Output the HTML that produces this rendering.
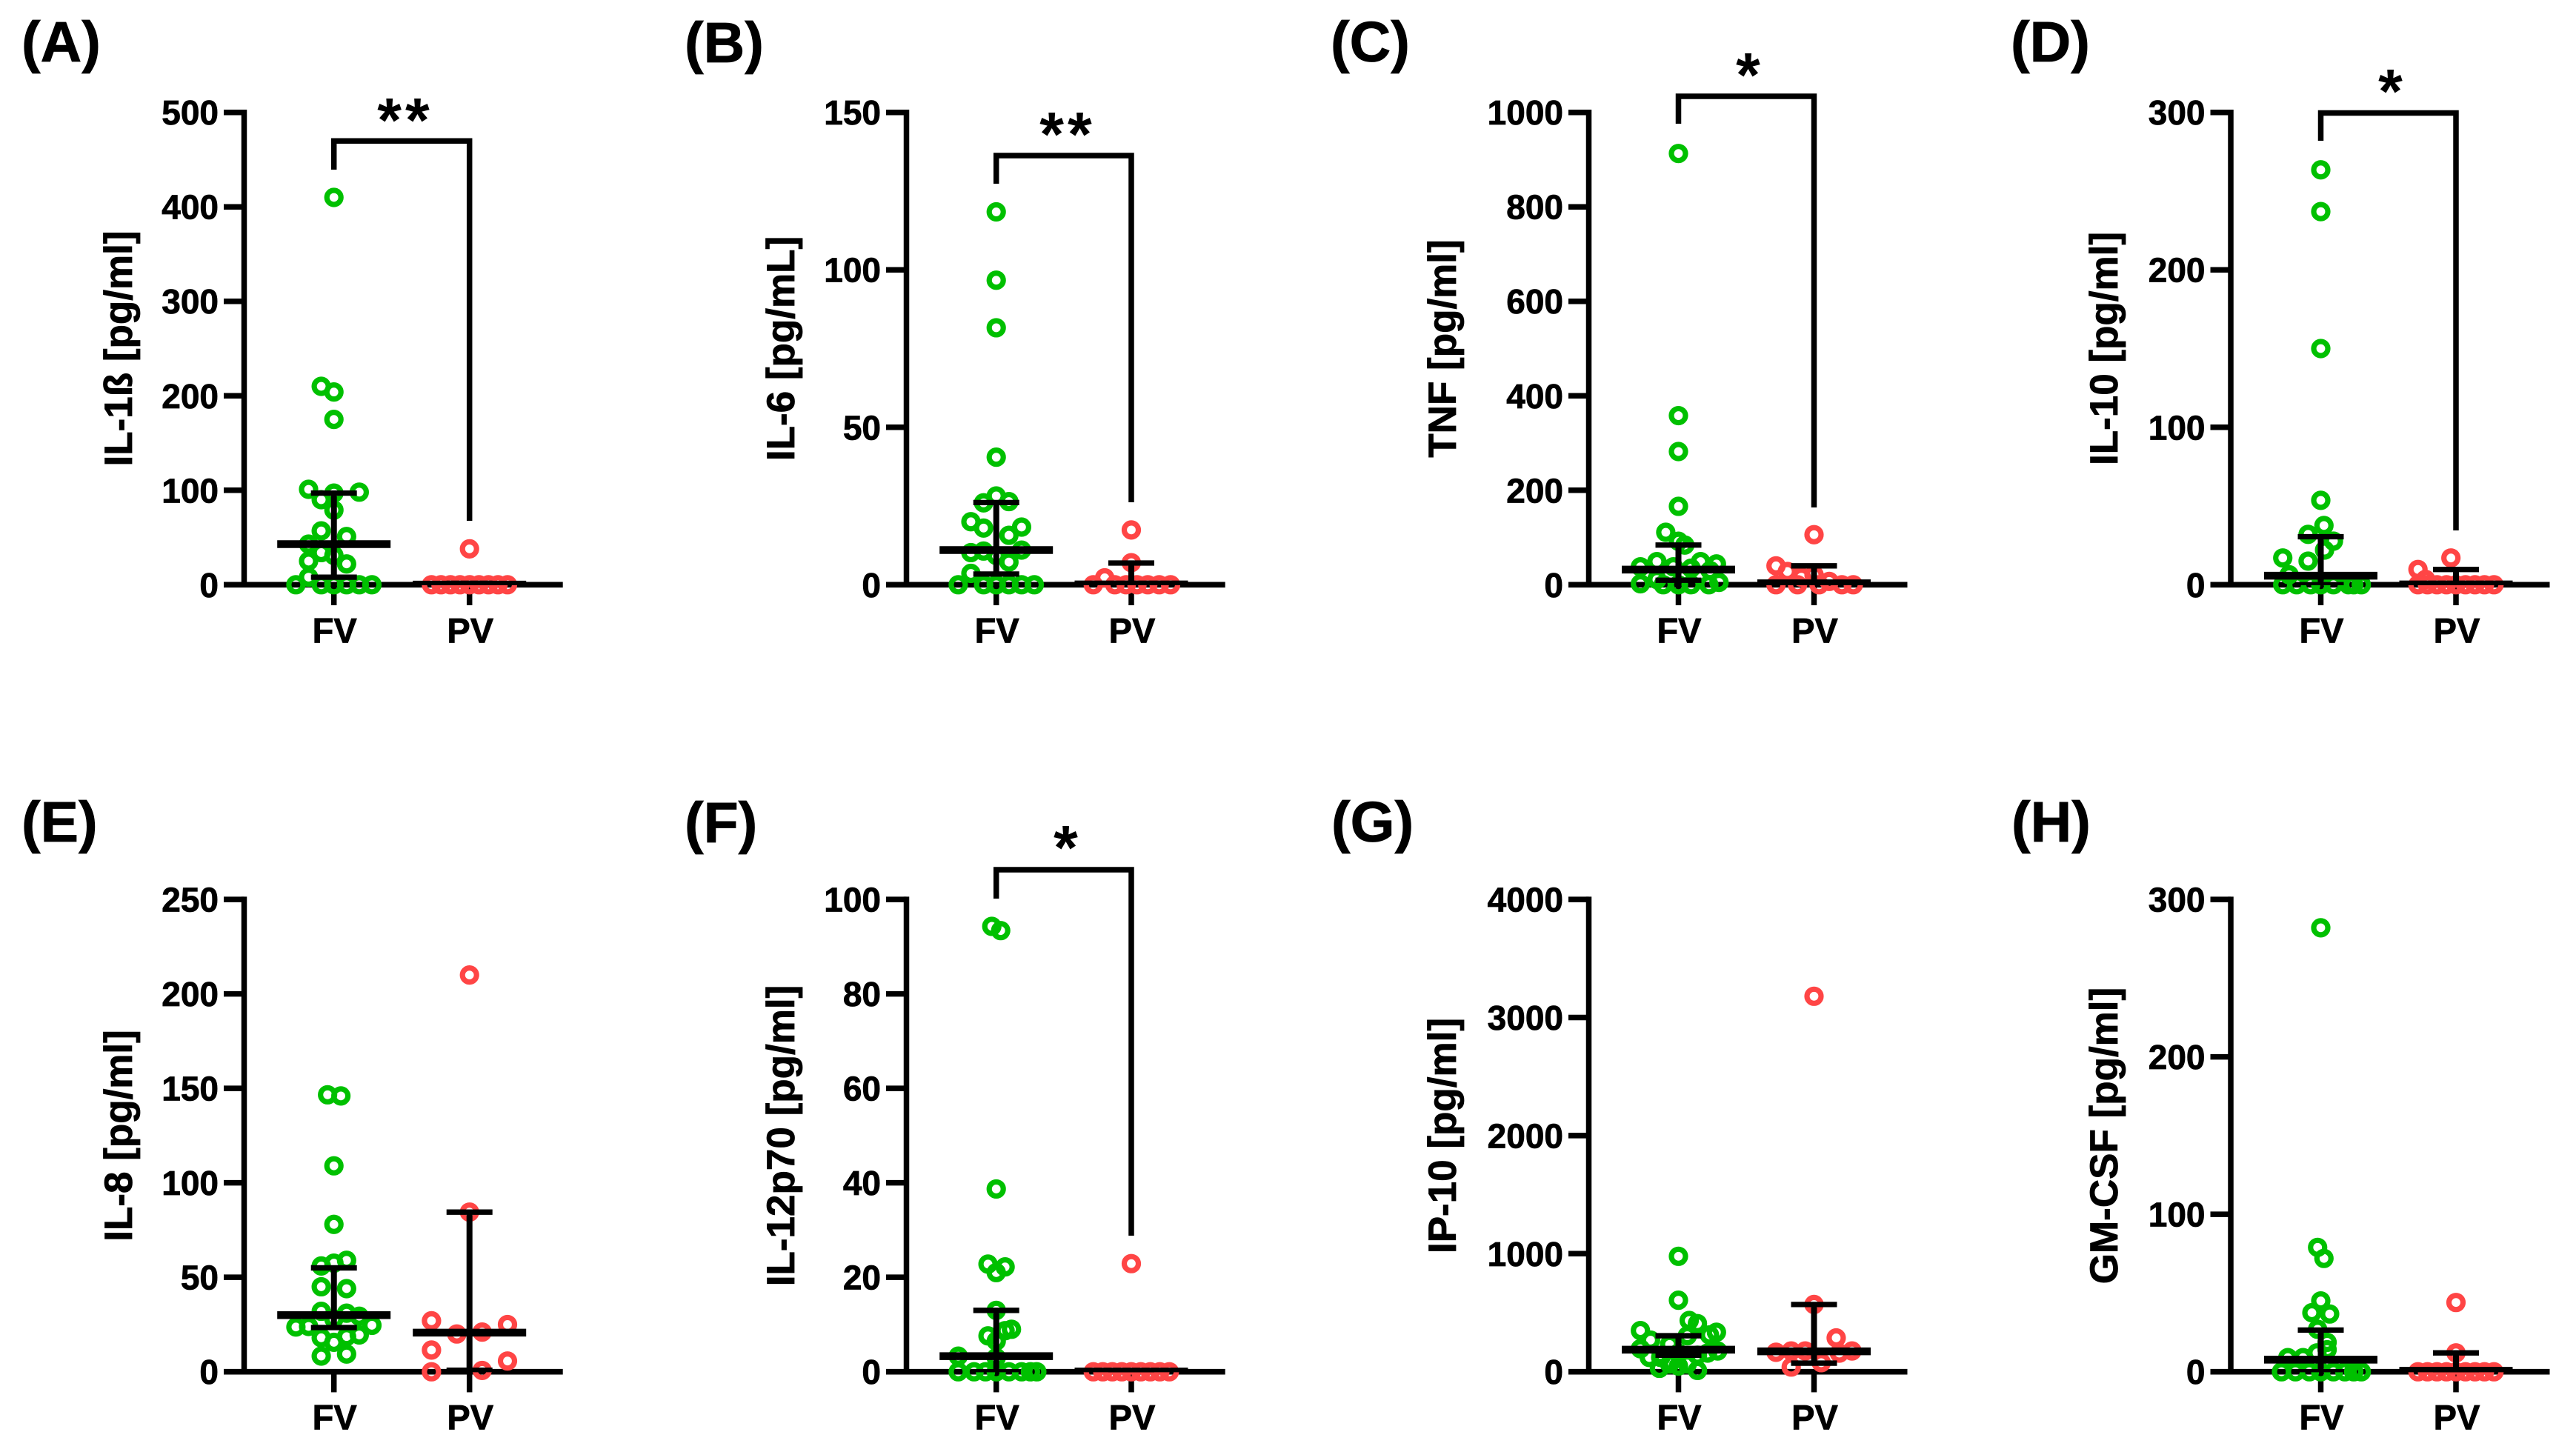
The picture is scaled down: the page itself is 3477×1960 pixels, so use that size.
<!DOCTYPE html>
<html lang="en">
<head>
<meta charset="utf-8">
<title>Cytokine levels FV vs PV</title>
<style>
html,body{margin:0;padding:0;background:#fff;}
svg{display:block;}
text{font-family:"Liberation Sans",Arial,sans-serif;font-weight:700;fill:#000;stroke:#000;stroke-width:0.8px;}
.letter{font-size:77px;}
.title{font-size:53px;text-anchor:middle;}
.star{font-size:84px;letter-spacing:5px;text-anchor:middle;stroke-width:0;}
</style>
</head>
<body>
<svg id="figure" xmlns="http://www.w3.org/2000/svg" width="3477" height="1960" viewBox="0 0 3477 1960">
  <defs>
    <clipPath id="clip-top"><rect x="0" y="0" width="3477" height="790"/></clipPath>
    <clipPath id="clip-bottom"><rect x="0" y="1000" width="3477" height="852.4"/></clipPath>
  </defs>
  <rect x="0" y="0" width="3477" height="1960" fill="#ffffff"/>

  <g id="panel-a">
    <text class="letter" x="29" y="83">(A)</text>
    <text class="title" transform="translate(178,470.5) rotate(-90)">IL-1ß [pg/ml]</text>
    <text class="star" x="547" y="191">**</text>
  </g>
  <g id="panel-b">
    <text class="letter" x="924" y="84">(B)</text>
    <text class="title" transform="translate(1072,470.5) rotate(-90)">IL-6 [pg/mL]</text>
    <text class="star" x="1441" y="210">**</text>
  </g>
  <g id="panel-c">
    <text class="letter" x="1796" y="83">(C)</text>
    <text class="title" transform="translate(1965,470.5) rotate(-90)">TNF [pg/ml]</text>
    <text class="star" x="2362" y="130">*</text>
  </g>
  <g id="panel-d">
    <text class="letter" x="2714" y="83">(D)</text>
    <text class="title" transform="translate(2858,470.5) rotate(-90)">IL-10 [pg/ml]</text>
    <text class="star" x="3229" y="152">*</text>
  </g>
  <g id="panel-e">
    <text class="letter" x="29" y="1136">(E)</text>
    <text class="title" transform="translate(178,1533) rotate(-90)">IL-8 [pg/ml]</text>
  </g>
  <g id="panel-f">
    <text class="letter" x="924" y="1137">(F)</text>
    <text class="title" transform="translate(1072,1533) rotate(-90)">IL-12p70 [pg/ml]</text>
    <text class="star" x="1441" y="1173">*</text>
  </g>
  <g id="panel-g">
    <text class="letter" x="1797" y="1136">(G)</text>
    <text class="title" transform="translate(1965,1533) rotate(-90)">IP-10 [pg/ml]</text>
  </g>
  <g id="panel-h">
    <text class="letter" x="2715" y="1136">(H)</text>
    <text class="title" transform="translate(2858,1533) rotate(-90)">GM-CSF [pg/ml]</text>
  </g>
</svg>

<script>
// ---- shared categories ----
const categories = ['FV', 'PV'];

// ---- panel A: IL-1ß ----
const aTicks = [0, 100, 200, 300, 400, 500];
const aFvValues = [410, 210, 204, 175, 101, 90, 97, 98, 79, 57, 51, 43, 34, 31, 25, 22, 8, 0, 0, 0, 0, 0, 0];
const aFvLanes = [0, -1, 0, 0, -2, -1, 0, 2, 0, -1, 1, -2, -1, 0, -2, 1, -2, -3, -1, 0, 1, 2, 3];
const aPvValues = [38, 0, 0, 0, 0, 0, 0, 0, 0, 0];
const aPvLanes = [0, -3, -2.25, -1.5, -0.75, 0, 0.75, 1.5, 2.25, 3];
const aMedian = [43, 0.1];
const aUpper = [97, 1.5];
const aLower = [8, 0];

// ---- panel B: IL-6 ----
const bTicks = [0, 50, 100, 150];
const bFvValues = [118.4, 96.7, 81.6, 40.5, 28.2, 26, 26.4, 20, 18, 18.3, 15.7, 10.2, 10.7, 11, 9.3, 7.2, 3.6, 0, 0, 0, 0, 0, 0];
const bFvLanes = [0, 0, 0, 0, 0, -1, 1, -2, -1, 2, 1, -2, -1, 2, 0, 1, -2, -3, -1, 0, 1, 2, 3];
const bPvValues = [17.4, 7, 2.2, 0, 0, 0, 0, 0, 0, 0];
const bPvLanes = [0, 0, -2.1, -3, -1.3, -0.4, 0.45, 1.3, 2.2, 3.1];
const bMedian = [11, 0.1];
const bUpper = [26.1, 6.9];
const bLower = [3.4, 0];

// ---- panel C: TNF ----
const cTicks = [0, 200, 400, 600, 800, 1000];
const cFvValues = [913, 358, 282, 166, 111, 92, 84, 38, 49, 38, 35, 49, 44, 30, 11, 2, 5, 0, 0, 0, 0];
const cFvLanes = [0, 0, 0, 0, -1, 0, 0.5, -3, -1.7, -0.4, 1, 1.75, 3, 2.5, -1.7, -3, 3.2, -1.2, 0, 1, 2.4];
const cPvValues = [106, 40, 28, 16, 21, 7, 0, 0, 0, 0, 0];
const cPvLanes = [0, -3, -2.1, -1, 0, 1.2, -3, -1.3, 0.4, 2.2, 3.1];
const cMedian = [32, 3];
const cUpper = [84, 40];
const cLower = [9.5, 0];

// ---- panel D: IL-10 ----
const dTicks = [0, 100, 200, 300];
const dFvValues = [263.5, 237, 150, 53.6, 37.6, 32, 27.7, 22, 15, 17, 6.3, 0, 0, 0, 0, 0, 0, 0, 0];
const dFvLanes = [0, 0, 0, 0, 0.25, -1, 1, 0.3, -1, -3, -2.5, -3, -1.9, -0.8, 0, 1, 2.2, 2.6, 3.2];
const dPvValues = [17, 9.7, 3.4, 0, 0, 0, 0, 0, 0, 0, 0, 0];
const dPvLanes = [-0.4, -3, -2.4, -3, -2.25, -1.5, -0.75, 0, 0.75, 1.5, 2.25, 3];
const dMedian = [5.7, 0.2];
const dUpper = [30.5, 9.7];
const dLower = [0, 0];

// ---- panel E: IL-8 ----
const eTicks = [0, 50, 100, 150, 200, 250];
const eFvValues = [146.6, 146, 109, 78, 59, 57.5, 56, 45, 44, 32, 31, 29.4, 28, 23.7, 24, 24.6, 19.5, 18, 18.6, 15.6, 8.3, 9.4];
const eFvLanes = [-0.5, 0.55, 0, 0, 1, 0, -1, -1, 1, -1, 1, 2, 0, -3, -2, 3, 2, -1, 1, 0, -1, 1];
const ePvValues = [210, 84.5, 27, 25, 20, 21, 11.5, 5.7, 0, 0.7];
const ePvLanes = [0, 0, -3, 3, -1, 1, -3, 3, -3, 1];
const eMedian = [30, 20.7];
const eUpper = [55, 84.5];
const eLower = [23.4, 0.8];

// ---- panel F: IL-12p70 ----
const fTicks = [0, 20, 40, 60, 80, 100];
const fFvValues = [94.3, 93.4, 38.7, 22.8, 22.2, 21, 13, 9, 8.7, 7.6, 6.5, 3.3, 3, 0, 0, 0, 0, 0, 0, 0, 0];
const fFvLanes = [-0.35, 0.35, 0, -0.65, 0.7, 0, 0, 1.2, 0.7, -0.65, 0, -3, 0, -3, -1.75, -0.85, 0, 1, 2, 2.7, 3.2];
const fPvValues = [22.9, 0, 0, 0, 0, 0, 0, 0, 0, 0];
const fPvLanes = [0, -3, -2.25, -1.5, -0.75, 0, 0.75, 1.5, 2.25, 3];
const fMedian = [3.3, 0.05];
const fUpper = [13, 0.1];
const fLower = [0, 0];

// ---- panel G: IP-10 ----
const gTicks = [0, 1000, 2000, 3000, 4000];
const gFvValues = [978, 606, 434, 408, 349, 335, 268, 312, 305, 232, 195, 176, 121, 158, 29, 11, 48, 121, 140, 158, 66, 66];
const gFvLanes = [0, 0, 0.85, 1.5, -3, 3, -2.2, 2.45, 0.7, -0.7, -3, 3.1, -2.3, 2.3, -1.5, 1.5, 0, -1.4, 1.5, 0, 0.7, -0.7];
const gPvValues = [3180, 570, 287, 165, 176, 176, 176, 158, 40, 77];
const gPvLanes = [0, 0, 1.75, -3, -1.8, -0.7, 3, 2, -1.8, 0.57];
const gMedian = [187, 173];
const gUpper = [305, 570];
const gLower = [140, 73];

// ---- panel H: GM-CSF ----
const hTicks = [0, 100, 200, 300];
const hFvValues = [282, 79, 72, 45, 37.5, 36.7, 27, 18.7, 14, 12, 9, 9, 0, 0, 0, 0, 0, 0, 0, 0];
const hFvLanes = [0, -0.25, 0.25, 0, -0.7, 0.7, -0.25, 0.5, 0.5, -0.3, -2.6, -1.4, -3.1, -2, -0.9, 0, 1, 1.9, 2.6, 3.2];
const hPvValues = [44, 12, 0, 0, 0, 0, 0, 0, 0, 0, 0];
const hPvLanes = [0, 0, -3, -2.25, -1.5, -0.75, 0, 0.75, 1.5, 2.25, 3];
const hMedian = [7.7, 0.6];
const hUpper = [26.5, 12];
const hLower = [0, 0];

const GREEN = '#00c000';
const RED = '#ff4545';
const LANE_STEP = 17.1;
const TOP_ROW = { top: 151.7, base: 789.3, clip: 'url(#clip-top)' };
const BOTTOM_ROW = { top: 1214.1, base: 1851.7, clip: 'url(#clip-bottom)' };
const NS = 'http://www.w3.org/2000/svg';

function shape(tag, attrs) {
  const el = document.createElementNS(NS, tag);
  for (const k in attrs) el.setAttribute(k, attrs[k]);
  return el;
}
function yScale(p, v) {
  const max = p.ticks[p.ticks.length - 1];
  return p.row.base - (v / max) * (p.row.base - p.row.top);
}
function xScale(p, catIndex, lane) {
  return p.cats[catIndex] + (lane || 0) * LANE_STEP;
}
function hLine(parent, x1, x2, y, w, name) {
  const el = shape('line', { x1: x1, x2: x2, y1: y, y2: y, stroke: '#000', 'stroke-width': w });
  
  
  parent.appendChild(el);
}
function vLine(parent, x, y1, y2, w, name) {
  const el = shape('line', { x1: x, x2: x, y1: y1, y2: y2, stroke: '#000', 'stroke-width': w });
  
  
  parent.appendChild(el);
}

function drawAxes(p, g) {
  const axisTop = yScale(p, p.ticks[p.ticks.length - 1]) - 3.75;
  vLine(g, p.axisX, axisTop, p.row.base, 7.5, 'y-axis-line');
  hLine(g, p.axisX - 27.5, p.cats[0] + 309, p.row.base, 7.7, 'x-axis-line');
  p.ticks.forEach(function (t) {
    const y = yScale(p, t);
    hLine(g, p.axisX - 27.5, p.axisX, y, 7.5, 'y-tick');
    const label = shape('text', { x: p.axisX - 34.5, y: y + 16.5, 'text-anchor': 'end', 'font-size': 46 });
    
    
    label.textContent = String(t);
    g.appendChild(label);
  });
  categories.forEach(function (c, i) {
    const x = xScale(p, i, 0);
    vLine(g, x, p.row.base, p.row.base + 27.7, 7.5, 'x-tick');
    const label = shape('text', { x: x + 1, y: p.row.base + 78, 'text-anchor': 'middle', 'font-size': 47 });
    
    
    label.textContent = c;
    g.appendChild(label);
  });
}

function drawPoints(p, g, catIndex, values, lanes, color, name) {
  values.forEach(function (v, i) {
    const dot = shape('circle', {
      cx: xScale(p, catIndex, lanes[i]),
      cy: yScale(p, v),
      r: 9.5,
      fill: 'none',
      stroke: color,
      'stroke-width': 7.2
    });
    
    
    g.appendChild(dot);
  });
}

function drawStats(p, g) {
  const stats = shape('g', { 'clip-path': p.row.clip });
  
  
  g.appendChild(stats);
  categories.forEach(function (c, i) {
    const x = xScale(p, i, 0);
    const yU = yScale(p, p.upper[i]);
    const yL = yScale(p, p.lower[i]);
    const yM = yScale(p, p.median[i]);
    vLine(stats, x, yU, yL, 8, 'error-bar-stem');
    hLine(stats, x - 31, x + 31, yU, 7.3, 'error-bar-upper-cap');
    hLine(stats, x - 31, x + 31, yL, 7.3, 'error-bar-lower-cap');
    hLine(stats, x - 76.5, x + 76.5, yM, 10.5, 'median-line');
  });
}

function drawBracket(p, g) {
  if (!p.bracket) return;
  const xa = xScale(p, 0, 0);
  const xb = xScale(p, 1, 0);
  const b = p.bracket;
  const path = shape('path', {
    d: 'M' + xa + ' ' + b.leftEnd + 'V' + b.y + 'H' + xb + 'V' + b.rightEnd,
    fill: 'none',
    stroke: '#000',
    'stroke-width': 7.5,
    'stroke-linejoin': 'miter'
  });
  
  
  g.appendChild(path);
}

const panels = [
  { id: 'panel-a', row: TOP_ROW, axisX: 329.5, cats: [450.7, 633.7], ticks: aTicks, fv: aFvValues, fvLanes: aFvLanes, pv: aPvValues, pvLanes: aPvLanes, median: aMedian, upper: aUpper, lower: aLower, bracket: { y: 190.3, leftEnd: 229, rightEnd: 703 } },
  { id: 'panel-b', row: TOP_ROW, axisX: 1223.5, cats: [1344.7, 1527], ticks: bTicks, fv: bFvValues, fvLanes: bFvLanes, pv: bPvValues, pvLanes: bPvLanes, median: bMedian, upper: bUpper, lower: bLower, bracket: { y: 210, leftEnd: 248, rightEnd: 678 } },
  { id: 'panel-c', row: TOP_ROW, axisX: 2144.5, cats: [2265.5, 2448.5], ticks: cTicks, fv: cFvValues, fvLanes: cFvLanes, pv: cPvValues, pvLanes: cPvLanes, median: cMedian, upper: cUpper, lower: cLower, bracket: { y: 130, leftEnd: 167, rightEnd: 685 } },
  { id: 'panel-d', row: TOP_ROW, axisX: 3011, cats: [3132.5, 3315], ticks: dTicks, fv: dFvValues, fvLanes: dFvLanes, pv: dPvValues, pvLanes: dPvLanes, median: dMedian, upper: dUpper, lower: dLower, bracket: { y: 152.5, leftEnd: 190, rightEnd: 716 } },
  { id: 'panel-e', row: BOTTOM_ROW, axisX: 329.5, cats: [450.7, 633.7], ticks: eTicks, fv: eFvValues, fvLanes: eFvLanes, pv: ePvValues, pvLanes: ePvLanes, median: eMedian, upper: eUpper, lower: eLower },
  { id: 'panel-f', row: BOTTOM_ROW, axisX: 1223.5, cats: [1344.7, 1527], ticks: fTicks, fv: fFvValues, fvLanes: fFvLanes, pv: fPvValues, pvLanes: fPvLanes, median: fMedian, upper: fUpper, lower: fLower, bracket: { y: 1174, leftEnd: 1213, rightEnd: 1668 } },
  { id: 'panel-g', row: BOTTOM_ROW, axisX: 2144.5, cats: [2265.5, 2448.5], ticks: gTicks, fv: gFvValues, fvLanes: gFvLanes, pv: gPvValues, pvLanes: gPvLanes, median: gMedian, upper: gUpper, lower: gLower },
  { id: 'panel-h', row: BOTTOM_ROW, axisX: 3011, cats: [3132.5, 3315], ticks: hTicks, fv: hFvValues, fvLanes: hFvLanes, pv: hPvValues, pvLanes: hPvLanes, median: hMedian, upper: hUpper, lower: hLower }
];

panels.forEach(function (p) {
  const g = document.getElementById(p.id);
  drawAxes(p, g);
  drawPoints(p, g, 0, p.fv, p.fvLanes, GREEN, 'fv-point');
  drawPoints(p, g, 1, p.pv, p.pvLanes, RED, 'pv-point');
  drawStats(p, g);
  drawBracket(p, g);
});
</script>
</body>
</html>
